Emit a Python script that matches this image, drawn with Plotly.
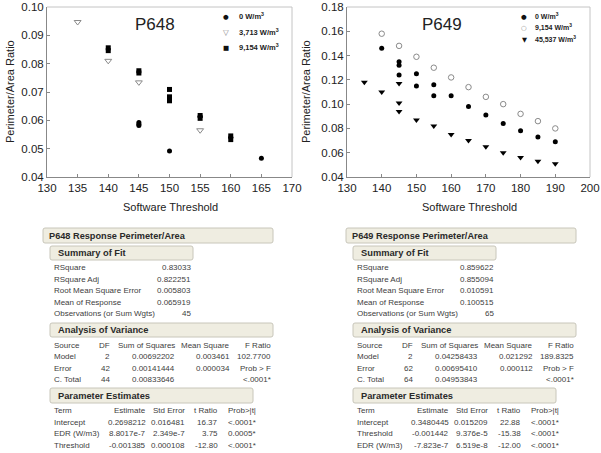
import plotly.graph_objects as go

W, H = 601, 453

# ---------------- data: P648 ----------------
p648_x_0 = [145, 145, 145, 150, 155, 160, 165]
p648_y_0 = [0.0592, 0.0586, 0.0582, 0.0492, 0.0614, 0.0540, 0.0466]
p648_x_3713 = [135, 140, 145, 155]
p648_y_3713 = [0.0947, 0.0810, 0.0734, 0.0565]
p648_x_9154 = [140, 140, 145, 145, 150, 150, 150, 150, 155, 155, 160, 160]
p648_y_9154 = [0.0856, 0.0846, 0.0775, 0.0767, 0.0709, 0.0683, 0.0676, 0.0669, 0.0617, 0.0607, 0.0545, 0.0532]

# ---------------- data: P649 ----------------
p649_x_0 = [140, 145, 145, 145, 150, 150, 155, 155, 160, 165, 170, 175, 180, 185, 190]
p649_y_0 = [0.146, 0.135, 0.132, 0.124, 0.125, 0.115, 0.116, 0.107, 0.107, 0.098, 0.091, 0.084, 0.078, 0.073, 0.069]
p649_x_9154 = [140, 145, 150, 155, 160, 165, 170, 175, 180, 185, 190]
p649_y_9154 = [0.158, 0.148, 0.139, 0.130, 0.122, 0.114, 0.106, 0.100, 0.092, 0.086, 0.080]
p649_x_45537 = [135, 140, 145, 145, 145, 150, 155, 160, 165, 170, 175, 180, 185, 190]
p649_y_45537 = [0.118, 0.110, 0.117, 0.101, 0.094, 0.087, 0.082, 0.075, 0.070, 0.065, 0.060, 0.056, 0.053, 0.051]

# ---------------- legend / tick labels ----------------
p648_series = ["0 W/m<sup>3</sup>", "3,713 W/m<sup>3</sup>", "9,154 W/m<sup>3</sup>"]
p649_series = ["0 W/m<sup>3</sup>", "9,154 W/m<sup>3</sup>", "45,537 W/m<sup>3</sup>"]
p648_xticks = [130, 135, 140, 145, 150, 155, 160, 165, 170]
p648_yticks = [0.04, 0.05, 0.06, 0.07, 0.08, 0.09, 0.10]
p648_ytick_text = ["0.04", "0.05", "0.06", "0.07", "0.08", "0.09", "0.10"]
p649_xticks = [130, 140, 150, 160, 170, 180, 190, 200]
p649_yticks = [0.04, 0.06, 0.08, 0.10, 0.12, 0.14, 0.16, 0.18]
p649_ytick_text = ["0.04", "0.06", "0.08", "0.10", "0.12", "0.14", "0.16", "0.18"]

# ---------------- table text ----------------
summary_labels = ["RSquare", "RSquare Adj", "Root Mean Square Error", "Mean of Response", "Observations (or Sum Wgts)"]
anova_header = ["Source", "DF", "Sum of Squares", "Mean Square", "F Ratio"]
pe_header = ["Term", "Estimate", "Std Error", "t Ratio", "Prob>|t|"]

p648_title = "P648 Response Perimeter/Area"
p648_summary = ["0.83033", "0.822251", "0.005803", "0.065919", "45"]
p648_anova = [["Model", "2", "0.00692202", "0.003461", "102.7700"],
              ["Error", "42", "0.00141444", "0.000034", "Prob > F"],
              ["C. Total", "44", "0.00833646", "", "<.0001*"]]
p648_pe = [["Intercept", "0.2698212", "0.016481", "16.37", "<.0001*"],
           ["EDR (W/m3)", "8.8017e-7", "2.349e-7", "3.75", "0.0005*"],
           ["Threshold", "-0.001385", "0.000108", "-12.80", "<.0001*"]]

p649_title = "P649 Response Perimeter/Area"
p649_summary = ["0.859622", "0.855094", "0.010591", "0.100515", "65"]
p649_anova = [["Model", "2", "0.04258433", "0.021292", "189.8325"],
              ["Error", "62", "0.00695410", "0.000112", "Prob > F"],
              ["C. Total", "64", "0.04953843", "", "<.0001*"]]
p649_pe = [["Intercept", "0.3480445", "0.015209", "22.88", "<.0001*"],
           ["Threshold", "-0.001442", "9.376e-5", "-15.38", "<.0001*"],
           ["EDR (W/m3)", "-7.823e-7", "6.519e-8", "-12.00", "<.0001*"]]

FONT = "Liberation Sans, Arial, sans-serif"
SYMFONT = "DejaVu Sans"


def px(x):
    return x / W


def py(y):
    return 1 - y / H


fig = go.Figure()

# ---- P648 traces ----
fig.add_trace(go.Scatter(x=p648_x_0, y=p648_y_0, mode="markers", name=p648_series[0], showlegend=False,
                         marker=dict(symbol="circle", size=5, color="black"), xaxis="x", yaxis="y"))
fig.add_trace(go.Scatter(x=p648_x_3713, y=p648_y_3713, mode="markers", name=p648_series[1], showlegend=False,
                         marker=dict(symbol="triangle-down-open", size=6, color="#8a8a8a", line=dict(width=1)),
                         xaxis="x", yaxis="y"))
fig.add_trace(go.Scatter(x=p648_x_9154, y=p648_y_9154, mode="markers", name=p648_series[2], showlegend=False,
                         marker=dict(symbol="square", size=5, color="black"), xaxis="x", yaxis="y"))

# ---- P649 traces ----
fig.add_trace(go.Scatter(x=p649_x_0, y=p649_y_0, mode="markers", name=p649_series[0], showlegend=False,
                         marker=dict(symbol="circle", size=5, color="black"), xaxis="x2", yaxis="y2"))
fig.add_trace(go.Scatter(x=p649_x_9154, y=p649_y_9154, mode="markers", name=p649_series[1], showlegend=False,
                         marker=dict(symbol="circle-open", size=5.5, color="#8a8a8a", line=dict(width=1)),
                         xaxis="x2", yaxis="y2"))
fig.add_trace(go.Scatter(x=p649_x_45537, y=p649_y_45537, mode="markers", name=p649_series[2], showlegend=False,
                         marker=dict(symbol="triangle-down", size=6, color="black"), xaxis="x2", yaxis="y2"))

axis_common = dict(showgrid=False, zeroline=False, ticks="inside", ticklen=3, tickcolor="#888",
                   showline=True, linecolor="#888", linewidth=1, automargin=False,
                   tickfont=dict(family=FONT, size=11.5, color="#222"))

ydom = [py(177), py(7)]
fig.update_layout(
    width=W, height=H, margin=dict(l=0, r=0, t=0, b=0, pad=0, autoexpand=False),
    paper_bgcolor="white", plot_bgcolor="white", showlegend=False,
    font=dict(family=FONT),
    xaxis=dict(domain=[px(47), px(292)], range=[130, 170], tickvals=p648_xticks, anchor="y", **axis_common),
    yaxis=dict(domain=ydom, range=[0.04, 0.10], tickvals=p648_yticks, ticktext=p648_ytick_text, anchor="x", **axis_common),
    xaxis2=dict(domain=[px(347), px(590)], range=[130, 200], tickvals=p649_xticks, anchor="y2", **axis_common),
    yaxis2=dict(domain=ydom, range=[0.04, 0.18], tickvals=p649_yticks, ticktext=p649_ytick_text, anchor="x2", **axis_common),
)

shapes = []
annots = []


def txt(s, x, y, anchor="left", size=8, color="#404040", family=FONT):
    annots.append(dict(text=s, x=px(x), y=py(y), xref="paper", yref="paper", showarrow=False,
                       xanchor=anchor, yanchor="middle",
                       font=dict(family=family, size=size, color=color)))


# light top/right frame lines of the plot areas
for x0, x1 in [(47, 292), (347, 590)]:
    shapes.append(dict(type="line", xref="paper", yref="paper", x0=px(x0), x1=px(x1), y0=py(7), y1=py(7),
                       line=dict(color="#c4c4c4", width=1)))
    shapes.append(dict(type="line", xref="paper", yref="paper", x0=px(x1), x1=px(x1), y0=py(7), y1=py(177),
                       line=dict(color="#c4c4c4", width=1)))

# plot titles and axis titles
txt("P648", 155, 24, anchor="center", size=17, color="#222")
txt("P649", 442, 24, anchor="center", size=17, color="#222")
for cx in (170, 469):
    txt("Software Threshold", cx, 207, anchor="center", size=11, color="#222")
for cx in (10, 306):
    annots.append(dict(text="Perimeter/Area Ratio", x=px(cx), y=py(92), xref="paper", yref="paper",
                       showarrow=False, textangle=-90, xanchor="center", yanchor="middle",
                       font=dict(family=FONT, size=11, color="#222")))

# legends (key glyph + label)
left_keys = [("\u25CF", "#111", 6.5), ("\u25BD", "#8a8a8a", 7.5), ("\u25A0", "#111", 6.5)]
for i, (name, (g, c, s)) in enumerate(zip(p648_series, left_keys)):
    yy = 17 + i * 15.5
    txt(g, 226, yy, anchor="center", size=s, color=c, family=SYMFONT)
    txt("<b>" + name + "</b>", 237, yy - 1, size=7.5, color="#222")
right_keys = [("\u25CF", "#111", 6.5), ("\u25CB", "#8a8a8a", 6.5), ("\u25BC", "#111", 6.5)]
for i, (name, (g, c, s)) in enumerate(zip(p649_series, right_keys)):
    yy = 17 + i * 11.5
    txt(g, 524, yy, anchor="center", size=s, color=c, family=SYMFONT)
    txt("<b>" + name + "</b>", 533, yy - 1, size=7, color="#222")


def box(x0, x1, y0, y1):
    r = 2
    path = (f"M {px(x0 + r)},{py(y0)} L {px(x1 - r)},{py(y0)} Q {px(x1)},{py(y0)} {px(x1)},{py(y0 + r)} "
            f"L {px(x1)},{py(y1 - r)} Q {px(x1)},{py(y1)} {px(x1 - r)},{py(y1)} "
            f"L {px(x0 + r)},{py(y1)} Q {px(x0)},{py(y1)} {px(x0)},{py(y1 - r)} "
            f"L {px(x0)},{py(y0 + r)} Q {px(x0)},{py(y0)} {px(x0 + r)},{py(y0)} Z")
    shapes.append(dict(type="path", xref="paper", yref="paper", path=path,
                       fillcolor="#efede1", line=dict(color="#c8c6ba", width=1), layer="below"))


def table(off, title, summary, anova, pe):
    box(43 + off, 273 + off, 228, 243)
    txt("<b>" + title + "</b>", 47 + off, 236, size=9.2, color="#2a2a2a")
    box(50 + off, 193 + off, 246, 260)
    txt("<b>Summary of Fit</b>", 56 + off, 253, size=9.3, color="#2a2a2a")
    for i, (lab, val) in enumerate(zip(summary_labels, summary)):
        yy = 267.5 + i * 11.6
        txt(lab, 52 + off, yy)
        txt(val, 193 + off, yy, anchor="right")
    box(50 + off, 273 + off, 323, 337)
    txt("<b>Analysis of Variance</b>", 56 + off, 330, size=9.3, color="#2a2a2a")
    cols = [(52, "left"), (112, "right"), (176.5, "right"), (231.5, "right"), (272.5, "right")]
    for r, row in enumerate([anova_header] + anova):
        yy = 345 + r * 11.5
        for (cx, anc), val in zip(cols, row):
            if val:
                txt(val, cx + off, yy, anchor=anc)
    box(50 + off, 253 + off, 388, 403)
    txt("<b>Parameter Estimates</b>", 56 + off, 395.5, size=9.3, color="#2a2a2a")
    cols = [(52, "left"), (147.5, "right"), (187, "right"), (220, "right"), (226, "left")]
    for r, row in enumerate([pe_header] + pe):
        yy = 410.5 + r * 11.5
        for (cx, anc), val in zip(cols, row):
            txt(val, cx + off, yy, anchor=anc)


table(0, p648_title, p648_summary, p648_anova, p648_pe)
table(303, p649_title, p649_summary, p649_anova, p649_pe)

fig.update_layout(shapes=shapes, annotations=annots)
fig.write_html("out.html", config={"displayModeBar": False, "staticPlot": True},
               post_script="document.body.style.margin='0';document.body.style.overflow='hidden';")
